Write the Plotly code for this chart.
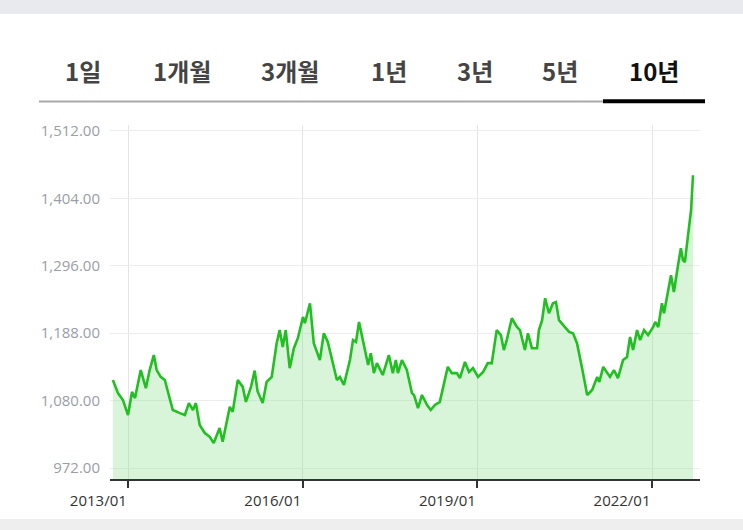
import plotly.graph_objects as go

dates = [
    "2012-09-26", "2012-10-28", "2012-11-28", "2012-12-30", "2013-01-24", "2013-02-12",
    "2013-03-20", "2013-04-21", "2013-05-15", "2013-06-10", "2013-06-28", "2013-07-23",
    "2013-08-18", "2013-10-07", "2013-11-21", "2013-12-22", "2014-01-16", "2014-02-11",
    "2014-03-01", "2014-03-25", "2014-04-26", "2014-05-27", "2014-06-21", "2014-07-28",
    "2014-08-16", "2014-09-30", "2014-10-18", "2014-11-19", "2014-12-20", "2015-01-09",
    "2015-02-10", "2015-03-05", "2015-03-23", "2015-04-24", "2015-05-19", "2015-06-20",
    "2015-07-21", "2015-08-09", "2015-08-28", "2015-09-16", "2015-10-11", "2015-11-06",
    "2015-12-01", "2016-01-02", "2016-01-14", "2016-02-15", "2016-03-10", "2016-04-17",
    "2016-05-12", "2016-06-06", "2016-08-02", "2016-08-21", "2016-09-15", "2016-10-23",
    "2016-11-11", "2016-11-30", "2016-12-19", "2017-01-13", "2017-02-14", "2017-03-03",
    "2017-03-22", "2017-04-10", "2017-05-17", "2017-06-24", "2017-07-19", "2017-08-07",
    "2017-08-20", "2017-09-14", "2017-10-15", "2017-11-16", "2017-11-29", "2017-12-24",
    "2018-01-18", "2018-02-19", "2018-03-14", "2018-04-09", "2018-05-10", "2018-06-29",
    "2018-07-24", "2018-08-25", "2018-09-13", "2018-10-15", "2018-11-09", "2018-12-04",
    "2019-01-05", "2019-02-06", "2019-03-07", "2019-04-01", "2019-05-02", "2019-05-28",
    "2019-06-16", "2019-07-04", "2019-08-05", "2019-09-06", "2019-09-25", "2019-10-26",
    "2019-11-14", "2019-12-09", "2020-01-10", "2020-01-22", "2020-02-11", "2020-03-01",
    "2020-03-25", "2020-04-19", "2020-05-08", "2020-05-27", "2020-06-21", "2020-07-29",
    "2020-08-23", "2020-09-17", "2020-10-19", "2020-11-20", "2020-12-21", "2021-01-22",
    "2021-02-04", "2021-03-01", "2021-04-12", "2021-05-07", "2021-06-01", "2021-07-03",
    "2021-07-28", "2021-08-16", "2021-09-04", "2021-09-29", "2021-10-18", "2021-11-12",
    "2021-12-07", "2022-01-08", "2022-01-21", "2022-02-09", "2022-03-04", "2022-03-17",
    "2022-04-30", "2022-05-18", "2022-06-13", "2022-07-01", "2022-07-14", "2022-07-26",
    "2022-08-21", "2022-09-03", "2022-09-15",
]
rates = [
    1113, 1092, 1081, 1057, 1094, 1084,
    1129, 1100, 1129, 1153, 1129, 1118,
    1113, 1065, 1060, 1057, 1076, 1065,
    1076, 1041, 1028, 1022, 1012, 1036,
    1014, 1070, 1062, 1113, 1102, 1078,
    1102, 1128, 1095, 1076, 1110, 1118,
    1172, 1193, 1166, 1193, 1132, 1164,
    1180, 1214, 1204, 1236, 1172, 1145,
    1188, 1174, 1113, 1118, 1105, 1145,
    1177, 1174, 1206, 1177, 1137, 1156,
    1124, 1140, 1121, 1153, 1124, 1145,
    1124, 1145, 1129, 1092, 1089, 1068,
    1089, 1073, 1065, 1073, 1078, 1134,
    1124, 1124, 1116, 1142, 1126, 1132,
    1118, 1126, 1140, 1140, 1193, 1185,
    1161, 1177, 1212, 1198, 1193, 1161,
    1188, 1164, 1164, 1193, 1209, 1244,
    1220, 1236, 1238, 1209, 1201, 1190,
    1188, 1172, 1132, 1089, 1097, 1118,
    1110, 1134, 1118, 1129, 1116, 1145,
    1150, 1182, 1161, 1193, 1177, 1193,
    1185, 1198, 1206, 1198, 1236, 1220,
    1281, 1254, 1297, 1324, 1305, 1302,
    1358, 1385, 1441,
]

y_ticks = [972, 1080, 1188, 1296, 1404, 1512]
y_tick_labels = ["972.00", "1,080.00", "1,188.00", "1,296.00", "1,404.00", "1,512.00"]
x_ticks = ["2013-01-01", "2016-01-01", "2019-01-01", "2022-01-01"]
x_tick_labels = ["2013/01", "2016/01", "2019/01", "2022/01"]
tabs = ["1일", "1개월", "3개월", "1년", "3년", "5년", "10년"]
tab_centers_px = [83, 182, 290, 389, 475, 560, 654]

W, H = 743, 530
L, R, T, B = 110, 43, 125, 51
PW, PH = W - L - R, H - T - B


def px(x):
    return (x - L) / PW


def py(y):
    return (H - B - y) / PH


fig = go.Figure()
fig.add_trace(go.Scatter(
    x=dates, y=rates, mode="lines",
    line=dict(color="#22bf22", width=2.6),
    fill="tozeroy", fillcolor="rgba(120,220,120,0.28)",
    hoverinfo="skip", showlegend=False,
))

shapes = [
    dict(type="rect", xref="paper", yref="paper", x0=px(0), x1=px(W), y0=py(0), y1=py(14),
         fillcolor="#e8eaed", line=dict(width=0), layer="below"),
    dict(type="rect", xref="paper", yref="paper", x0=px(0), x1=px(W), y0=py(519), y1=py(H),
         fillcolor="#eeeeee", line=dict(width=0), layer="below"),
    dict(type="line", xref="paper", yref="paper", x0=px(39), x1=px(603), y0=py(101.5), y1=py(101.5),
         line=dict(color="#aaaaaa", width=2)),
    dict(type="line", xref="paper", yref="paper", x0=px(603), x1=px(705), y0=py(101.3), y1=py(101.3),
         line=dict(color="#000000", width=4)),
]

annotations = []
for name, cx in zip(tabs, tab_centers_px):
    sel = name == "10년"
    annotations.append(dict(
        text=f"<b>{name}</b>", xref="paper", yref="paper", x=px(cx), y=py(71),
        xanchor="center", yanchor="middle", showarrow=False,
        font=dict(family="Noto Sans CJK KR", size=24, color="#111111" if sel else "#444444"),
    ))

fig.update_layout(
    width=W, height=H,
    margin=dict(l=L, r=R, t=T, b=B),
    paper_bgcolor="white", plot_bgcolor="white",
    shapes=shapes, annotations=annotations,
    xaxis=dict(
        type="date", range=["2012-09-08", "2022-10-29"],
        tickvals=x_ticks, ticktext=x_tick_labels,
        showgrid=True, gridcolor="#e4e4e8", gridwidth=1,
        showline=True, linecolor="#333333", linewidth=2,
        ticks="outside", ticklen=7, tickcolor="#333333", tickwidth=2,
        ticklabelshift=-30, ticklabelstandoff=0,
        tickfont=dict(family="Open Sans", size=15, color="#333333"),
        zeroline=False, fixedrange=True,
    ),
    yaxis=dict(
        range=[954.4, 1521.6],
        tickvals=y_ticks, ticktext=y_tick_labels,
        showgrid=True, gridcolor="#ededf0", gridwidth=1,
        showline=False, ticks="", ticklabelstandoff=9,
        tickfont=dict(family="Open Sans", size=15, color="#9a9ea6"),
        zeroline=False, fixedrange=True,
    ),
)

fig.write_html("out.html")
